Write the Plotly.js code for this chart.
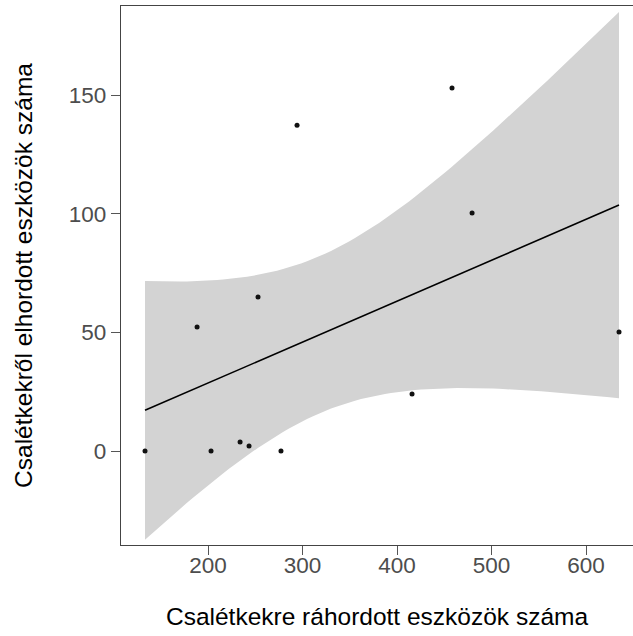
<!DOCTYPE html>
<html>
<head>
<meta charset="utf-8">
<script src="https://cdn.plot.ly/plotly-3.0.1.min.js"></script>
<style>html,body{margin:0;padding:0;background:#fff;}#chart{width:633px;height:636px;}</style>
</head>
<body>
<div id="chart"></div>
<script>
// Data
const raHordott = [133.3, 188.4, 203.2, 233.9, 243.4, 252.9, 277.2, 294.2, 415.9, 458.2, 479.4, 634.9];
const elHordott = [0, 52.2, 0, 3.8, 2.1, 64.9, 0, 137.3, 24.0, 153.0, 100.3, 50.1];
const xTickVals = [200, 300, 400, 500, 600];
const yTickVals = [0, 50, 100, 150];
const xTitle = "Csalétkekre ráhordott eszközök száma";
const yTitle = "Csalétkekről elhordott eszközök száma";

// Linear model fit with 95% confidence band (as geom_smooth(method = "lm"))
const n = raHordott.length;
const mx = raHordott.reduce((a, b) => a + b, 0) / n;
const my = elHordott.reduce((a, b) => a + b, 0) / n;
let sxx = 0, sxy = 0;
for (let i = 0; i < n; i++) { sxx += (raHordott[i] - mx) ** 2; sxy += (raHordott[i] - mx) * (elHordott[i] - my); }
const slope = sxy / sxx, icpt = my - slope * mx;
let sse = 0;
for (let i = 0; i < n; i++) { sse += (elHordott[i] - icpt - slope * raHordott[i]) ** 2; }
const sigma = Math.sqrt(sse / (n - 2));
const tq = 2.228; // t(0.975, df = 10)
const xmin = Math.min(...raHordott), xmax = Math.max(...raHordott);
const gx = [], fit = [], lo = [], hi = [];
for (let k = 0; k < 80; k++) {
  const x = xmin + (xmax - xmin) * k / 79;
  const f = icpt + slope * x;
  const se = sigma * Math.sqrt(1 / n + (x - mx) ** 2 / sxx);
  gx.push(x); fit.push(f); lo.push(f - tq * se); hi.push(f + tq * se);
}

const traces = [
  {x: gx, y: lo, mode: 'lines', line: {width: 0, color: 'rgba(0,0,0,0)'}, hoverinfo: 'skip', showlegend: false},
  {x: gx, y: hi, mode: 'lines', fill: 'tonexty', fillcolor: '#D3D3D3', line: {width: 0, color: 'rgba(0,0,0,0)'}, hoverinfo: 'skip', showlegend: false},
  {x: gx, y: fit, mode: 'lines', line: {color: '#000000', width: 1.6}, showlegend: false},
  {x: raHordott, y: elHordott, mode: 'markers', marker: {color: '#111111', size: 5}, showlegend: false}
];

const tickFont = {family: 'Liberation Sans, Arial, sans-serif', size: 22.5, color: '#4D4D4D'};
const titleFont = {family: 'Liberation Sans, Arial, sans-serif', size: 24.5, color: '#000000'};

const layout = {
  width: 633, height: 636,
  margin: {l: 121, r: 0, t: 6, b: 91},
  paper_bgcolor: '#FFFFFF', plot_bgcolor: '#FFFFFF',
  showlegend: false,
  xaxis: {
    range: [107.9, 649.7], tickvals: xTickVals, ticktext: xTickVals.map(String),
    showgrid: false, zeroline: false, showline: true, linecolor: '#444444', linewidth: 1.3, mirror: true,
    ticks: 'outside', ticklen: 9, tickwidth: 1, tickcolor: '#555555', tickfont: tickFont, ticklabelstandoff: -9,
    title: {text: xTitle, font: titleFont, standoff: 30}
  },
  yaxis: {
    range: [-39.6, 187.5], tickvals: yTickVals, ticktext: yTickVals.map(String),
    showgrid: false, zeroline: false, showline: true, linecolor: '#444444', linewidth: 1.3,
    ticks: 'outside', ticklen: 9, tickwidth: 1, tickcolor: '#555555', tickfont: tickFont,
    title: {text: yTitle, font: titleFont, standoff: 29}
  }
};

Plotly.newPlot('chart', traces, layout, {displayModeBar: false, staticPlot: true});
</script>
</body>
</html>
